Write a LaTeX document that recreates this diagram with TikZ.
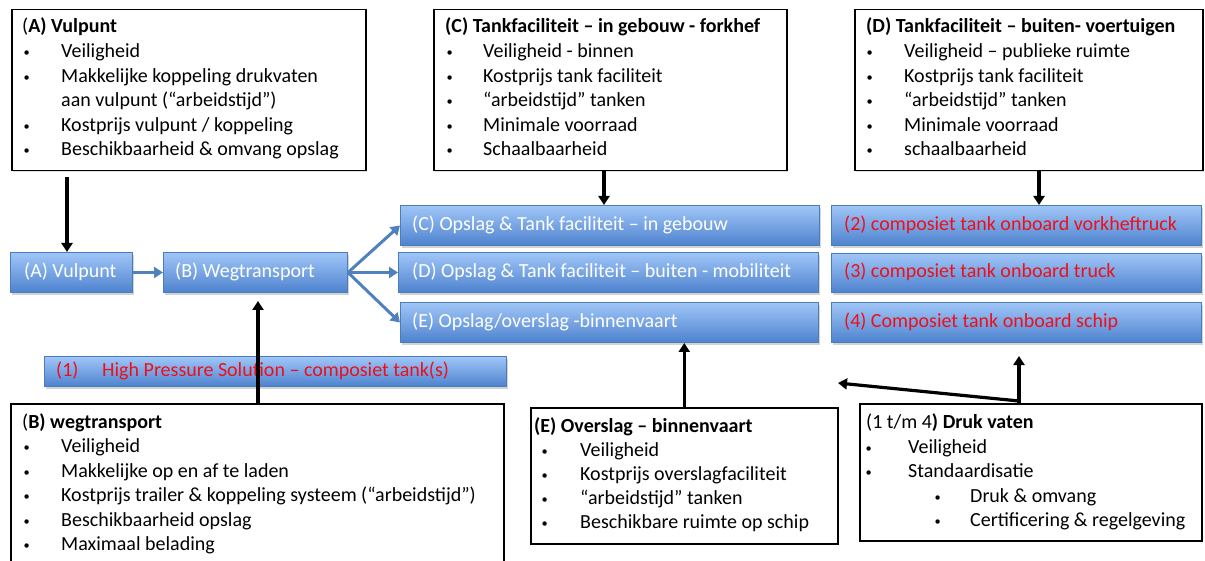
\documentclass[tikz,border=0pt]{standalone}
\usepackage{fontspec}
\setmainfont{Carlito}
\usetikzlibrary{arrows.meta,shadows,calc}
\definecolor{bluetop}{RGB}{160,198,248}
\definecolor{bluebot}{RGB}{78,130,206}
\definecolor{blueedge}{RGB}{74,126,187}
\definecolor{arrowblue}{RGB}{79,129,189}
\definecolor{redtxt}{RGB}{240,15,25}
\tikzset{
  bluebox/.style={draw=blueedge, line width=1pt, top color=bluetop, bottom color=bluebot,
    anchor=north west, inner sep=0pt,
    drop shadow={shadow xshift=1pt,shadow yshift=-2.5pt,opacity=0.35}},
  infobox/.style={draw=black, line width=1.5pt, fill=white, anchor=north west, inner sep=0pt,
    drop shadow={shadow xshift=1pt,shadow yshift=-1.5pt,opacity=0.25}},
  txt/.style={anchor=base west, inner sep=0pt, font=\fontsize{20}{24}\selectfont},
  wtxt/.style={txt, text=white},
  rtxt/.style={txt, text=redtxt},
  blk/.style={line width=3.2pt, -{Triangle[length=9pt,width=11pt]}},
  blu/.style={line width=3pt, color=arrowblue, -{Triangle[length=9pt,width=11pt]}},
}
\newcommand\bul{\raisebox{1pt}{\scalebox{0.62}{\textbullet}}}
\newcommand\itm[5]{\node[txt] (#1) at (#2,#4) {\makebox[#3pt][l]{\hspace{1.5pt}\bul}#5};}
\begin{document}
\begin{tikzpicture}[x=1pt,y=-1pt]
\useasboundingbox (0,0) rectangle (1205,561);

% ---------- info boxes ----------
\node[infobox, minimum width=354pt, minimum height=161pt] (ta) at (11,9) {};
\node[txt] (ta0) at (22,33) {(\textbf{A) Vulpunt}};
\itm{ta1}{22}{39}{58}{Veiligheid}
\itm{ta2}{22}{39}{82.5}{Makkelijke koppeling drukvaten}
\node[txt] (ta2b) at (61,107) {aan vulpunt (“arbeidstijd”)};
\itm{ta3}{22}{39}{131.5}{Kostprijs vulpunt / koppeling}
\itm{ta4}{22}{39}{156}{Beschikbaarheid \& omvang opslag}

\node[infobox, minimum width=353pt, minimum height=161pt] (tc) at (433,9) {};
\node[txt] (tc0) at (445,33) {\textbf{(C) Tankfaciliteit – in gebouw - forkhef}};
\itm{tc1}{445}{38}{58}{Veiligheid - binnen}
\itm{tc2}{445}{38}{82.5}{Kostprijs tank faciliteit}
\itm{tc3}{445}{38}{107}{“arbeidstijd” tanken}
\itm{tc4}{445}{38}{131.5}{Minimale voorraad}
\itm{tc5}{445}{38}{156}{Schaalbaarheid}

\node[infobox, minimum width=348pt, minimum height=161pt] (td) at (854,9) {};
\node[txt] (td0) at (866,33) {\textbf{(D) Tankfaciliteit – buiten- voertuigen}};
\itm{td1}{865}{39}{58}{Veiligheid – publieke ruimte}
\itm{td2}{865}{39}{82.5}{Kostprijs tank faciliteit}
\itm{td3}{865}{39}{107}{“arbeidstijd” tanken}
\itm{td4}{865}{39}{131.5}{Minimale voorraad}
\itm{td5}{865}{39}{156}{schaalbaarheid}

\node[infobox, minimum width=493pt, minimum height=170pt] (tb) at (10,403) {};
\node[txt] (tb0) at (22,428) {(\textbf{B) wegtransport}};
\itm{tb1}{22}{39}{452.5}{Veiligheid}
\itm{tb2}{22}{39}{477}{Makkelijke op en af te laden}
\itm{tb3}{22}{39}{501.5}{Kostprijs trailer \& koppeling systeem (“arbeidstijd”)}
\itm{tb4}{22}{39}{526}{Beschikbaarheid opslag}
\itm{tb5}{22}{39}{550.5}{Maximaal belading}

\node[infobox, minimum width=307pt, minimum height=136pt] (te) at (530,407) {};
\node[txt] (te0) at (534,432) {\textbf{(E) Overslag – binnenvaart}};
\itm{te1}{540}{40}{456}{Veiligheid}
\itm{te2}{540}{40}{480}{Kostprijs overslagfaciliteit}
\itm{te3}{540}{40}{504}{“arbeidstijd” tanken}
\itm{te4}{540}{40}{528}{Beschikbare ruimte op schip}

\node[infobox, minimum width=342pt, minimum height=137pt] (tf) at (859,403) {};
\node[txt] (tf0) at (866,428) {(1 t/m 4\textbf{) Druk vaten}};
\itm{tf1}{864}{44}{453}{Veiligheid}
\itm{tf2}{864}{44}{477.5}{Standaardisatie}
\itm{tf3}{933}{37}{502}{Druk \& omvang}
\itm{tf4}{933}{37}{526.5}{Certificering \& regelgeving}

% ---------- blue process boxes ----------
\node[bluebox, minimum width=122pt, minimum height=40pt] (va) at (10,252) {};
\node[wtxt] (vat) at (24,278) {(A) Vulpunt};
\node[bluebox, minimum width=184pt, minimum height=40pt] (vb) at (163,252) {};
\node[wtxt] (vbt) at (175,278) {(B) Wegtransport};
\node[bluebox, minimum width=419pt, minimum height=40pt] (vc) at (400,205) {};
\node[wtxt] (vct) at (412,231) {(C) Opslag \& Tank faciliteit – in gebouw};
\node[bluebox, minimum width=420pt, minimum height=40pt] (vd) at (398,252) {};
\node[wtxt] (vdt) at (412,278) {(D) Opslag \& Tank faciliteit – buiten - mobiliteit};
\node[bluebox, minimum width=418pt, minimum height=40pt] (ve) at (400,302) {};
\node[wtxt] (vet) at (412,328) {(E) Opslag/overslag -binnenvaart};

\node[bluebox, minimum width=370pt, minimum height=40pt] (v2) at (831,205) {};
\node[rtxt] (v2t) at (844,231) {(2) composiet tank onboard vorkheftruck};
\node[bluebox, minimum width=370pt, minimum height=39pt] (v3) at (831,253) {};
\node[rtxt] (v3t) at (844,278) {(3) composiet tank onboard truck};
\node[bluebox, minimum width=370pt, minimum height=40pt] (v4) at (831,302) {};
\node[rtxt] (v4t) at (844,328) {(4) Composiet tank onboard schip};

\node[bluebox, minimum width=462pt, minimum height=30pt] (v1) at (44,356) {};
\node[rtxt] (v1t) at (56,377) {\makebox[46pt][l]{(1)}High Pressure Solution – composiet tank(s)};

% ---------- connectors ----------
\draw[blk] ([xshift=56pt,yshift=-6pt]ta.south west) -- ([xshift=57pt]va.north west);
\draw[blu] (va.east) -- (vb.west);
\draw[blu] (vb.east) -- (vc.west);
\draw[blu] (vb.east) -- (vd.west);
\draw[blu] (vb.east) -- (ve.west);
\draw[blk] ([xshift=171pt]tc.south west) -- ([xshift=204pt]vc.north west);
\draw[blk] ([xshift=185pt]td.south west) -- ([xshift=208pt]v2.north west);
\draw[blk] ([xshift=248pt]tb.north west) -- ([xshift=95pt,yshift=-8pt]vb.south west);
\draw[blk] (te.north) -- (te.north |- ve.south);
\draw[blk] ([xshift=160pt]tf.north west) -- ([xshift=188pt,yshift=-13pt]v4.south west);
\coordinate (lt) at (838,383);
\draw[blk] ([xshift=160pt,yshift=2pt]tf.north west) -- (lt);
\end{tikzpicture}
\end{document}
